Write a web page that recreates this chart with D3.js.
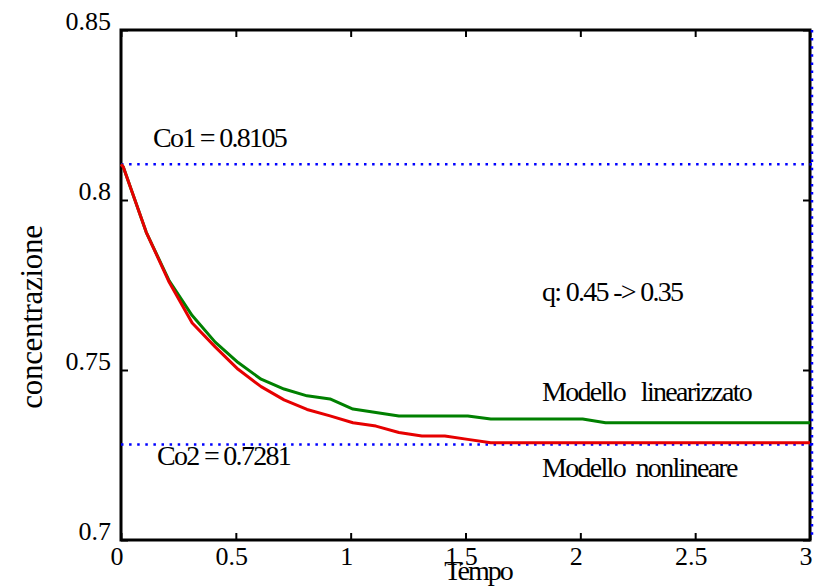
<!DOCTYPE html>
<html>
<head>
<meta charset="utf-8">
<script src="https://cdn.jsdelivr.net/npm/d3@7"></script>
<style>
  html, body { margin: 0; padding: 0; background: #fff; }
  svg { display: block; }
  text { font-family: "Liberation Serif", "Times New Roman", serif; fill: #000; }
</style>
</head>
<body>
<div id="chart"></div>
<script>
// ---- data ----
const times = [0, 0.01, 0.11, 0.21, 0.31, 0.41, 0.51, 0.61, 0.71, 0.81, 0.91, 1.01, 1.11, 1.21, 1.31, 1.41, 1.51, 1.61, 1.71, 1.81, 1.91, 2.01, 2.11, 2.21, 2.31, 2.41, 2.51, 2.61, 2.71, 2.81, 2.91, 3.0];
const linearizzato = [0.8105, 0.8097, 0.7905, 0.7762, 0.7660, 0.7582, 0.7522, 0.7473, 0.7444, 0.7424, 0.7415, 0.7385, 0.7375, 0.7365, 0.7365, 0.7365, 0.7365, 0.7356, 0.7356, 0.7356, 0.7356, 0.7356, 0.7345, 0.7345, 0.7345, 0.7345, 0.7345, 0.7345, 0.7345, 0.7345, 0.7345, 0.7345];
const nonlineare = [0.8105, 0.8097, 0.7905, 0.7758, 0.7638, 0.7568, 0.7502, 0.7451, 0.7412, 0.7384, 0.7365, 0.7345, 0.7335, 0.7316, 0.7306, 0.7306, 0.7296, 0.7286, 0.7286, 0.7286, 0.7286, 0.7286, 0.7286, 0.7286, 0.7286, 0.7286, 0.7286, 0.7286, 0.7286, 0.7286, 0.7286, 0.7286];
const Co1 = 0.8105;
const Co2 = 0.7281;
const xTicks = [0, 0.5, 1, 1.5, 2, 2.5, 3];
const xTickLabels = ["0", "0.5", "1", "1.5", "2", "2.5", "3"];
const yTicks = [0.7, 0.75, 0.8, 0.85];
const yTickLabels = ["0.7", "0.75", "0.8", "0.85"];
const annotations = [
  { text: "Co1 = 0.8105", t: 0.139, v: 0.8156 },
  { text: "Co2 = 0.7281", t: 0.157, v: 0.7221 },
  { text: "q: 0.45 -> 0.35", t: 1.833, v: 0.7703 },
  { text: "Modello   linearizzato", t: 1.833, v: 0.7409 },
  { text: "Modello  nonlineare", t: 1.833, v: 0.7185 }
];

// ---- layout ----
const W = 814, H = 588;
const mLeft = 121, mRight = 810, mTop = 30, mBottom = 540;

const x = d3.scaleLinear().domain([0, 3]).range([mLeft, mRight]);
const y = d3.scaleLinear().domain([0.7, 0.85]).range([mBottom, mTop]);

const svg = d3.select("#chart").append("svg")
  .attr("width", W).attr("height", H)
  .attr("viewBox", `0 0 ${W} ${H}`);
svg.append("rect").attr("width", W).attr("height", H).attr("fill", "#fff");

// inward ticks on all sides
const tickLen = 7;
const axB = d3.axisTop(x).tickValues(xTicks).tickSize(tickLen).tickFormat("");
const axT = d3.axisBottom(x).tickValues(xTicks).tickSize(tickLen).tickFormat("");
const axL = d3.axisRight(y).tickValues(yTicks).tickSize(tickLen).tickFormat("");
const axR = d3.axisLeft(y).tickValues(yTicks).tickSize(tickLen).tickFormat("");
function styleAxis(g) {
  g.select(".domain").remove();
  g.selectAll(".tick line").attr("stroke", "#000").attr("stroke-width", 2);
}
svg.append("g").attr("transform", `translate(0,${mBottom})`).call(axB).call(styleAxis);
svg.append("g").attr("transform", `translate(0,${mTop})`).call(axT).call(styleAxis);
svg.append("g").attr("transform", `translate(${mLeft},0)`).call(axL).call(styleAxis);
svg.append("g").attr("transform", `translate(${mRight},0)`).call(axR).call(styleAxis);

// frame
svg.append("rect")
  .attr("x", x(0)).attr("y", y(0.85))
  .attr("width", x(3) - x(0)).attr("height", y(0.7) - y(0.85))
  .attr("fill", "none").attr("stroke", "#000").attr("stroke-width", 3);

// tick labels
svg.append("g").selectAll("text").data(xTicks).join("text")
  .attr("x", d => x(d) - 4)
  .attr("y", mBottom + 25)
  .attr("text-anchor", "middle")
  .attr("font-size", 26)
  .text((d, i) => xTickLabels[i]);

svg.append("g").selectAll("text").data(yTicks).join("text")
  .attr("x", mLeft - 10)
  .attr("y", d => y(d))
  .attr("text-anchor", "end")
  .attr("font-size", 26)
  .text((d, i) => yTickLabels[i]);

// axis titles
svg.append("text")
  .attr("x", 478).attr("y", 580)
  .attr("text-anchor", "middle")
  .attr("font-size", 28)
  .attr("letter-spacing", -2)
  .text("Tempo");

svg.append("text")
  .attr("transform", `translate(42,317) rotate(-90)`)
  .attr("text-anchor", "middle")
  .attr("font-size", 31)
  .attr("letter-spacing", -0.3)
  .text("concentrazione");

// reference dotted lines
const dotted = svg.append("g")
  .attr("stroke", "#0000ff").attr("stroke-width", 2.5)
  .attr("stroke-dasharray", "2.5,5.6").attr("fill", "none");
[Co1, Co2].forEach(v => {
  dotted.append("line")
    .attr("x1", x(0)).attr("x2", x(3) + 3)
    .attr("y1", y(v)).attr("y2", y(v));
});
dotted.append("line")
  .attr("x1", x(3) + 2).attr("x2", x(3) + 2)
  .attr("y1", y(0.85)).attr("y2", y(0.7));

// curves
const line = d3.line().x((d, i) => x(times[i])).y(d => y(d));
svg.append("path").datum(linearizzato)
  .attr("d", line).attr("fill", "none")
  .attr("stroke", "#008000").attr("stroke-width", 3)
  .attr("stroke-linejoin", "round");
svg.append("path").datum(nonlineare)
  .attr("d", line).attr("fill", "none")
  .attr("stroke", "#e60000").attr("stroke-width", 3)
  .attr("stroke-linejoin", "round");

// annotations
svg.append("g").selectAll("text").data(annotations).join("text")
  .attr("x", d => x(d.t))
  .attr("y", d => y(d.v))
  .attr("font-size", 28)
  .attr("letter-spacing", -1.7)
  .attr("xml:space", "preserve")
  .style("white-space", "pre")
  .text(d => d.text);
</script>
</body>
</html>
